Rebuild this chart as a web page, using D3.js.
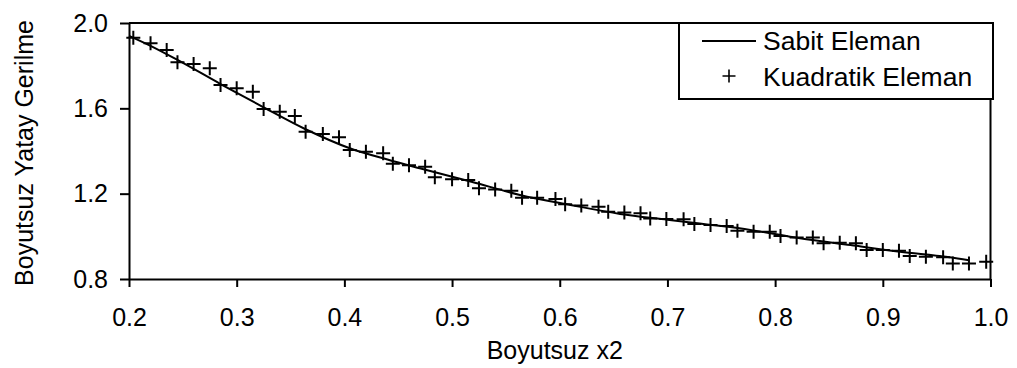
<!DOCTYPE html>
<html><head><meta charset="utf-8">
<script src="https://cdn.jsdelivr.net/npm/d3@7"></script>
<style>
body{margin:0;background:#fff}
svg{display:block}
text{font-family:Arial,"Liberation Sans",sans-serif;fill:#000}
</style>
</head><body>
<svg id="chart" width="1017" height="368"></svg>
<script>
// ---- data ----
const seriesNames = ["Sabit Eleman", "Kuadratik Eleman"];
const xTitle = "Boyutsuz x2";
const yTitle = "Boyutsuz Yatay Gerilme";
const xTicks = [0.2, 0.3, 0.4, 0.5, 0.6, 0.7, 0.8, 0.9, 1.0];
const yTicks = [0.8, 1.2, 1.6, 2.0];

const lineX = [0.20,0.22,0.245,0.285,0.325,0.364,0.405,0.44,0.47,0.518,0.563,0.61,0.656,0.70,0.73,0.75,0.777,0.823,0.87,0.916,0.962,0.98];
const lineY = [1.94,1.893,1.827,1.714,1.605,1.502,1.413,1.36,1.319,1.256,1.194,1.147,1.105,1.078,1.060,1.048,1.030,0.991,0.959,0.928,0.902,0.888];

const quadX = [0.204,0.220,0.235,0.245,0.260,0.275,0.285,0.300,0.315,0.325,0.340,0.354,0.364,0.380,0.395,0.405,0.420,0.436,0.445,0.460,0.475,0.484,0.500,0.515,0.525,0.540,0.555,0.565,0.579,0.596,0.605,0.620,0.636,0.645,0.660,0.675,0.684,0.699,0.715,0.725,0.740,0.755,0.765,0.780,0.795,0.805,0.820,0.835,0.845,0.860,0.875,0.885,0.900,0.915,0.925,0.940,0.956,0.965,0.980,0.996];
const quadY = [1.931,1.905,1.873,1.816,1.808,1.788,1.709,1.694,1.678,1.597,1.584,1.564,1.490,1.480,1.464,1.405,1.397,1.389,1.340,1.333,1.326,1.277,1.267,1.264,1.225,1.220,1.214,1.181,1.181,1.175,1.150,1.144,1.139,1.115,1.112,1.108,1.084,1.081,1.080,1.058,1.053,1.048,1.026,1.022,1.022,1.001,0.995,0.995,0.967,0.970,0.967,0.936,0.936,0.932,0.908,0.904,0.902,0.873,0.873,0.881];

// ---- layout ----
const L = 129, R = 990.5, T = 23, B = 279;
const svg = d3.select("#chart");
const x = d3.scaleLinear().domain([0.2, 1.0]).range([L, R]);
const y = d3.scaleLinear().domain([0.8, 2.0]).range([B, T]);
const tickFont = 25;

// frame (top & right)
svg.append("path")
  .attr("d", `M${L},${T}H${R}V${B}`)
  .attr("fill", "none").attr("stroke", "#000").attr("stroke-width", 2);

// axes
const gx = svg.append("g").attr("transform", `translate(0,${B})`)
  .call(d3.axisBottom(x).tickValues(xTicks).tickFormat(d3.format(".1f")).tickSize(8).tickPadding(21).tickSizeOuter(0));
const gy = svg.append("g").attr("transform", `translate(${L},0)`)
  .call(d3.axisLeft(y).tickValues(yTicks).tickFormat(d3.format(".1f")).tickSize(9).tickPadding(12).tickSizeOuter(0));
[gx, gy].forEach(g => {
  g.select(".domain").attr("stroke", "#000").attr("stroke-width", 2);
  g.selectAll(".tick line").attr("stroke", "#000").attr("stroke-width", 2);
  g.selectAll(".tick text").attr("font-size", tickFont).attr("font-family", "Arial, 'Liberation Sans', sans-serif").attr("fill", "#000");
});

// titles
svg.append("text").attr("x", (L + R) / 2 - 5).attr("y", 359)
  .attr("text-anchor", "middle").attr("font-size", 25).text(xTitle);
svg.append("text").attr("transform", `translate(33,${(T + B) / 2 + 2}) rotate(-90)`)
  .attr("text-anchor", "middle").attr("font-size", 25).text(yTitle);

// line series
const lineData = lineX.map((v, i) => [v, lineY[i]]);
svg.append("path").datum(lineData)
  .attr("d", d3.line().x(d => x(d[0])).y(d => y(d[1])).curve(d3.curveMonotoneX))
  .attr("fill", "none").attr("stroke", "#000").attr("stroke-width", 2);

// plus markers
const plus = s => `M${-s/2},0H${s/2}M0,${-s/2}V${s/2}`;
const quadData = quadX.map((v, i) => [v, quadY[i]]);
svg.append("g").selectAll("path").data(quadData).join("path")
  .attr("transform", d => `translate(${x(d[0])},${y(d[1])})`)
  .attr("d", plus(14)).attr("stroke", "#000").attr("stroke-width", 2).attr("fill", "none");

// legend
const lg = svg.append("g");
lg.append("rect").attr("x", 679).attr("y", 23).attr("width", 314).attr("height", 76)
  .attr("fill", "#fff").attr("stroke", "#000").attr("stroke-width", 2);
lg.append("line").attr("x1", 702).attr("x2", 756).attr("y1", 41).attr("y2", 41)
  .attr("stroke", "#000").attr("stroke-width", 2);
lg.append("text").attr("x", 763).attr("y", 50).attr("font-size", 26.5).text(seriesNames[0]);
lg.append("path").attr("transform", "translate(729,76)").attr("d", plus(13))
  .attr("stroke", "#000").attr("stroke-width", 1.6).attr("fill", "none");
lg.append("text").attr("x", 763).attr("y", 86).attr("font-size", 26.5).text(seriesNames[1]);
</script>
</body></html>
